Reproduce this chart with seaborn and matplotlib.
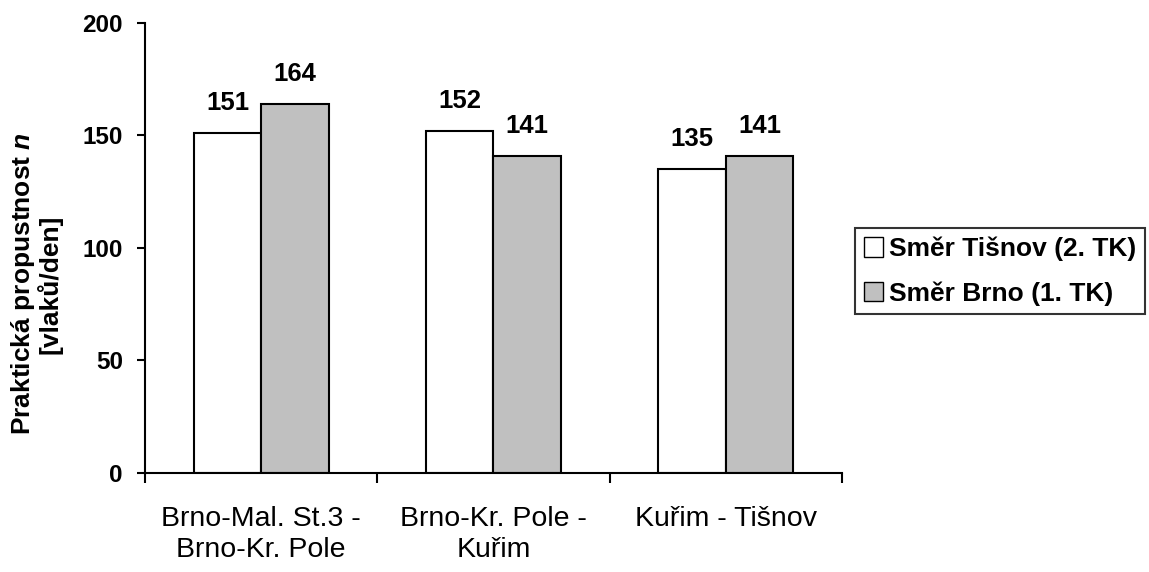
import matplotlib
matplotlib.use("Agg")
import matplotlib.pyplot as plt
import seaborn as sns
import pandas as pd
from matplotlib.ticker import FixedLocator

# Úseky trati a praktická propustnost v obou směrech
useky = ["Brno-Mal. St.3 -\nBrno-Kr. Pole", "Brno-Kr. Pole -\nKuřim", "Kuřim - Tišnov"]
smer_tisnov = [151, 152, 135]
smer_brno = [164, 141, 141]
serie = ["Směr Tišnov (2. TK)", "Směr Brno (1. TK)"]
y_ticks = [0, 50, 100, 150, 200]

df = pd.DataFrame({
    "usek": useky * 2,
    "n": smer_tisnov + smer_brno,
    "smer": [serie[0]] * 3 + [serie[1]] * 3,
})

sns.set_theme(style="white")
plt.rcParams["font.family"] = ["Liberation Sans", "DejaVu Sans"]
plt.rcParams["text.color"] = "black"
plt.rcParams["axes.labelcolor"] = "black"
plt.rcParams["xtick.color"] = "black"
plt.rcParams["ytick.color"] = "black"
plt.rcParams["mathtext.fontset"] = "custom"
plt.rcParams["mathtext.it"] = "Liberation Sans:bold:italic"
plt.rcParams["mathtext.rm"] = "Liberation Sans:bold"

fig = plt.figure(figsize=(11.49, 5.72), dpi=100)
ax = fig.add_axes([0.1262, 0.1731, 0.6066, 0.7867])

sns.barplot(data=df, x="usek", y="n", hue="smer", hue_order=serie,
            palette=["#FFFFFF", "#C0C0C0"], edgecolor="black", linewidth=1.5,
            width=0.58, ax=ax, legend=True, saturation=1)

for cont in ax.containers:
    ax.bar_label(cont, fmt="%d", padding=13, fontsize=18.5, fontweight="bold",
                 color="black")

ax.set_ylim(0, 200)
ax.set_xlim(-0.5, 2.5)
ax.set_yticks(y_ticks)
ax.set_yticklabels([str(t) for t in y_ticks], fontsize=17.5, fontweight="bold")
ax.tick_params(axis="y", direction="out", length=6, width=1.5, left=True, pad=10)
ax.tick_params(axis="x", which="major", length=0, pad=24)
ax.xaxis.set_minor_locator(FixedLocator([-0.5, 0.5, 1.5, 2.5]))
ax.tick_params(axis="x", which="minor", direction="out", length=7.5, width=1.5,
               bottom=True)
for lab in ax.get_xticklabels():
    lab.set_fontsize(20.5)
    lab.set_linespacing(1.22)

ax.set_xlabel("")
ax.set_ylabel("Praktická propustnost $n$\n[vlaků/den]", fontsize=19,
              fontweight="bold", linespacing=1.0)
ax.yaxis.set_label_coords(-0.118, 0.42)

for s in ["top", "right"]:
    ax.spines[s].set_visible(False)
for s in ["left", "bottom"]:
    ax.spines[s].set_color("black")
    ax.spines[s].set_linewidth(1.5)

leg = ax.legend(loc="center left", bbox_to_anchor=(0.744, 0.526),
                bbox_transform=fig.transFigure, frameon=True,
                fancybox=False, edgecolor="black",
                prop={"weight": "bold", "size": 19},
                handlelength=0.75, handleheight=0.75, handletextpad=0.2,
                borderpad=0.33, labelspacing=0.75, borderaxespad=0)
leg.get_frame().set_linewidth(1.5)
for h in leg.legend_handles:
    h.set_linewidth(1.0)

fig.savefig("out.png", dpi=100, facecolor="white")
